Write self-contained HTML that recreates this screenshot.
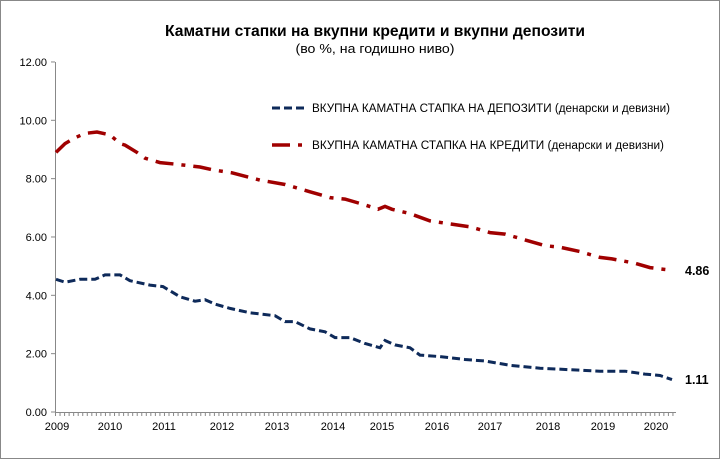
<!DOCTYPE html>
<html><head><meta charset="utf-8"><style>
html,body{margin:0;padding:0;background:#fff}
svg{display:block;font-family:"Liberation Sans","DejaVu Sans",sans-serif}
</style></head><body>
<svg id="s" width="720" height="459" viewBox="0 0 720 459">
<rect x="0.5" y="0.5" width="719" height="458" fill="#fff" stroke="#888"/>
<text x="375" y="36" text-anchor="middle" font-size="15.5" font-weight="bold" fill="#000" textLength="420" lengthAdjust="spacingAndGlyphs">Каматни стапки на вкупни кредити и вкупни депозити</text>
<text x="375" y="53" text-anchor="middle" font-size="13" fill="#000" textLength="159" lengthAdjust="spacingAndGlyphs">(во %, на годишно  ниво)</text>
<g id="ax" font-size="11" fill="#000"></g>
<line x1="272" y1="108" x2="306" y2="108" stroke="#0e2a5a" stroke-width="3" stroke-dasharray="8,4"/>
<text x="312" y="112" font-size="11.5" textLength="358" lengthAdjust="spacingAndGlyphs">ВКУПНА КАМАТНА СТАПКА НА ДЕПОЗИТИ (денарски и девизни)</text>
<line x1="272" y1="145" x2="306" y2="145" stroke="#a00000" stroke-width="3.5" stroke-dasharray="18,8,4,8"/>
<text x="312" y="149" font-size="11.5" textLength="352" lengthAdjust="spacingAndGlyphs">ВКУПНА КАМАТНА СТАПКА НА КРЕДИТИ (денарски и девизни)</text>
<text x="685" y="275" font-size="12.5" font-weight="bold">4.86</text>
<text x="685" y="384" font-size="12.5" font-weight="bold">1.11</text>
</svg>
<script>
var s=document.getElementById('s'),ax=document.getElementById('ax'),NS='http://www.w3.org/2000/svg';
function el(t,a,p){var e=document.createElementNS(NS,t);for(var k in a)e.setAttribute(k,a[k]);(p||s).appendChild(e);return e;}
function Y(v){return 412-v*29.17;}
el('line',{x1:55.5,y1:62,x2:55.5,y2:412,stroke:'#888'},ax);
el('line',{x1:55,y1:412.5,x2:676,y2:412.5,stroke:'#888'},ax);
for(var i=0;i<=6;i++){var y=Y(i*2);el('line',{x1:51,y1:y,x2:55,y2:y,stroke:'#888'},ax);
var t=el('text',{x:47,y:y+4,'text-anchor':'end','font-size':11},ax);t.textContent=(i*2).toFixed(2);}
for(var m=0;m<=136;m++){var x=55.5+m*4.54;el('line',{x1:x,y1:412,x2:x,y2:416,stroke:'#888'},ax);}
var yrs=[57,110,164,222,277,333,382,437,490,548,603,656];
for(var i=0;i<12;i++){var t=el('text',{x:yrs[i],y:430,'text-anchor':'middle','font-size':11},ax);t.textContent=2009+i;}
var dep=[[56,4.55],[65,4.45],[80,4.55],[95,4.55],[105,4.7],[120,4.7],[130,4.5],[150,4.35],[163,4.3],[180,3.95],[195,3.8],[205,3.85],[215,3.7],[230,3.55],[250,3.4],[275,3.3],[285,3.1],[295,3.1],[310,2.85],[325,2.75],[335,2.55],[350,2.55],[365,2.35],[380,2.2],[385,2.45],[395,2.3],[410,2.2],[420,1.95],[440,1.9],[465,1.8],[485,1.75],[510,1.6],[540,1.5],[570,1.45],[600,1.4],[625,1.4],[645,1.3],[660,1.25],[672,1.11]];
var cr=[[56,8.9],[65,9.2],[75,9.4],[85,9.55],[97,9.6],[110,9.5],[120,9.2],[125,9.15],[137,8.9],[145,8.7],[160,8.55],[175,8.5],[200,8.4],[213,8.3],[232,8.2],[260,7.95],[285,7.8],[310,7.55],[330,7.35],[345,7.3],[365,7.1],[378,6.95],[385,7.05],[392,6.95],[410,6.8],[430,6.55],[450,6.45],[470,6.35],[490,6.15],[505,6.1],[525,5.9],[545,5.7],[560,5.65],[580,5.5],[600,5.3],[612,5.25],[635,5.1],[650,4.95],[662,4.9],[672,4.86]];
function pts(a){return a.map(function(p){return p[0]+','+Y(p[1]).toFixed(1)}).join(' ');}
el('polyline',{points:pts(cr),fill:'none',stroke:'#a00000','stroke-width':3.5,'stroke-dasharray':'18,8,4,8'});
el('polyline',{points:pts(dep),fill:'none',stroke:'#0e2a5a','stroke-width':3,'stroke-dasharray':'8,4'});
</script>
</body></html>
